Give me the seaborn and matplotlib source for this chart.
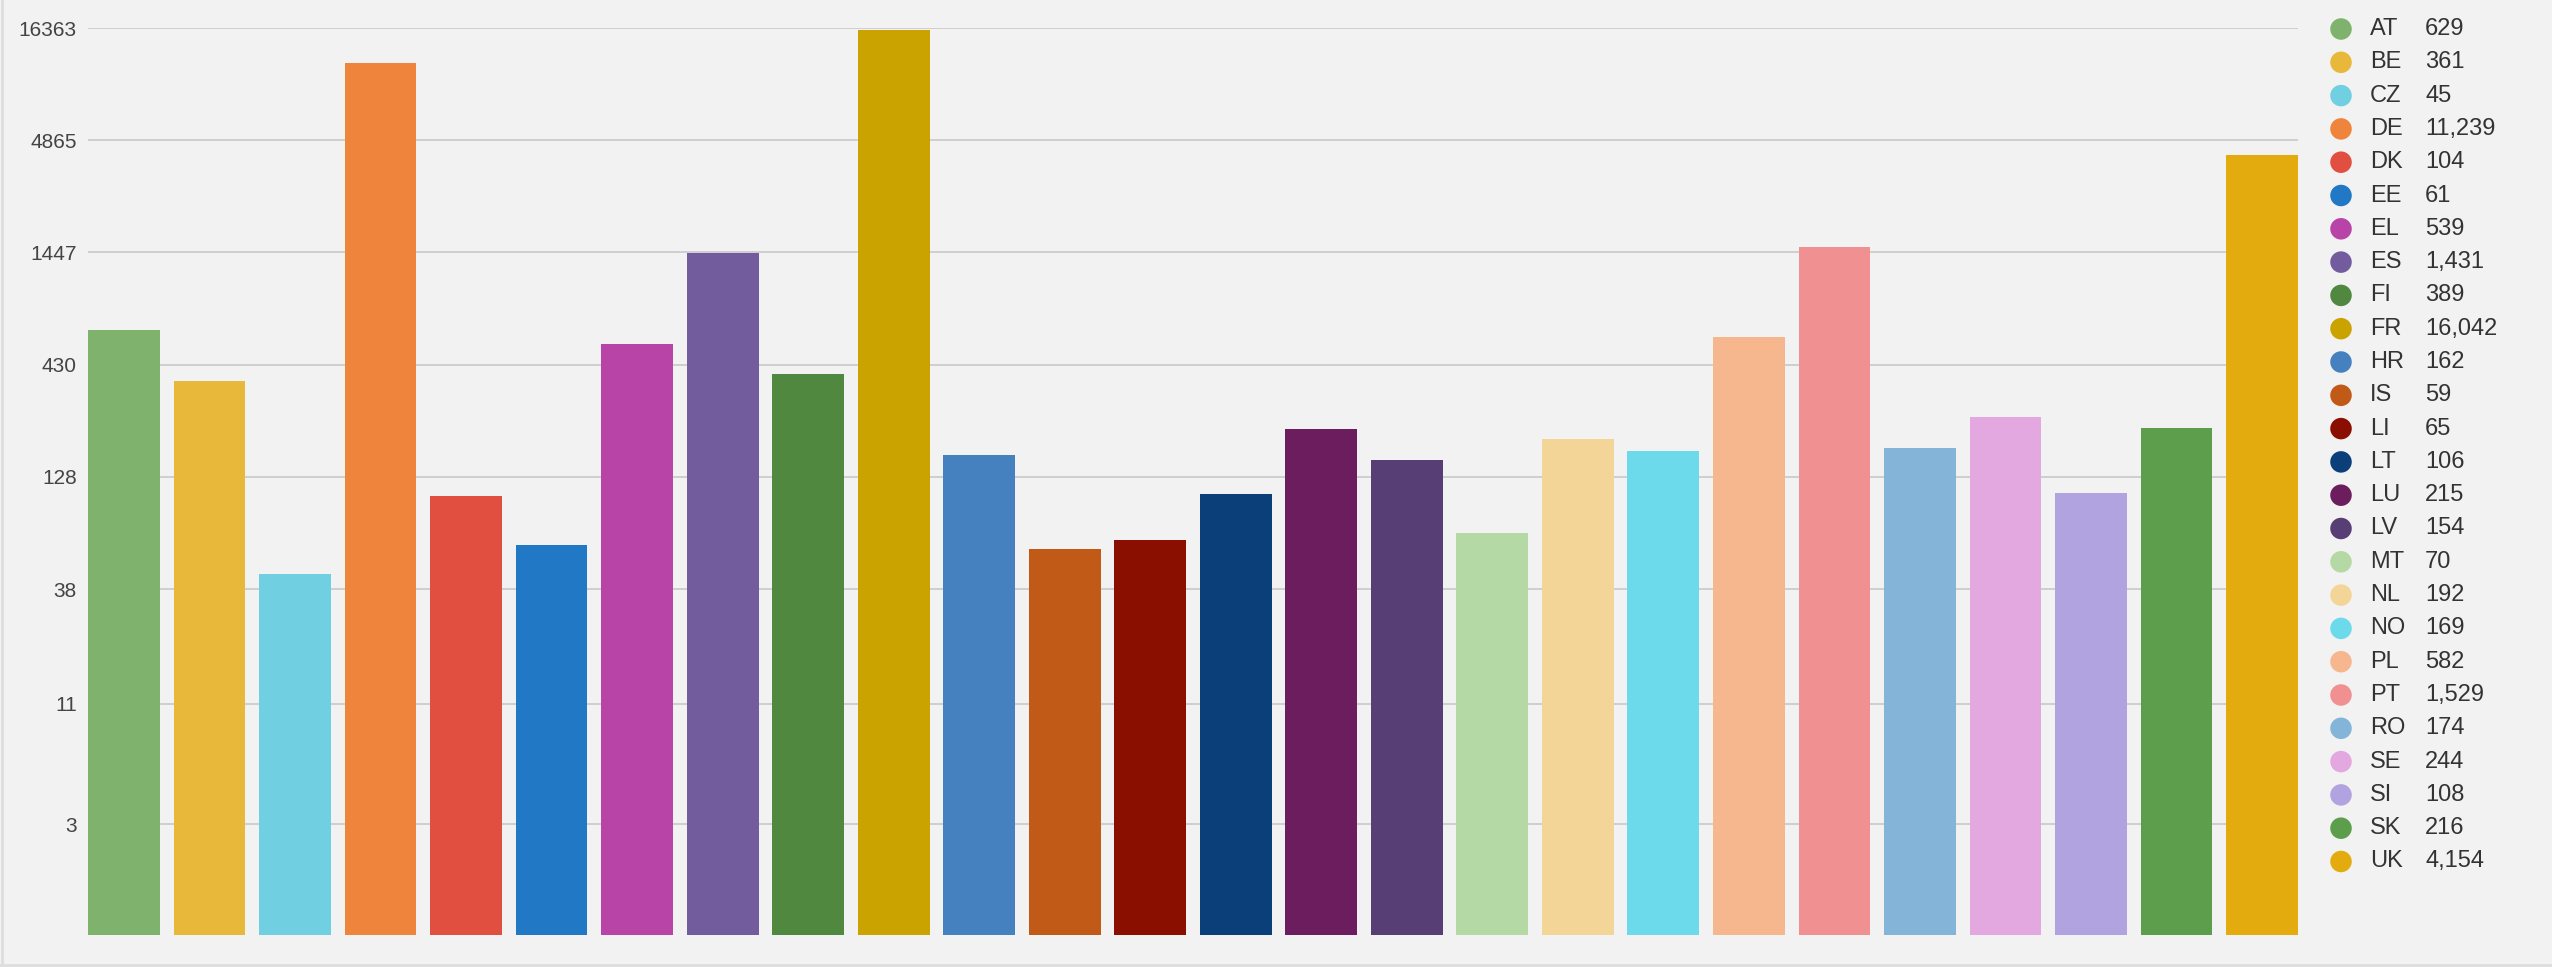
# 국가별 막대그래프 (로그 스케일)

import numpy as np
import pandas as pd
import seaborn as sns
import matplotlib.pyplot as plt
from matplotlib.lines import Line2D

codes = ["AT", "BE", "CZ", "DE", "DK", "EE", "EL", "ES", "FI", "FR", "HR", "IS", "LI",
         "LT", "LU", "LV", "MT", "NL", "NO", "PL", "PT", "RO", "SE", "SI", "SK", "UK"]
values = [629, 361, 45, 11239, 104, 61, 539, 1431, 389, 16042, 162, 59, 65,
          106, 215, 154, 70, 192, 169, 582, 1529, 174, 244, 108, 216, 4154]
colors = ["#7fb26d", "#e8b83a", "#70cfe0", "#ef843c", "#e04f3f", "#2178c4", "#b944a8",
          "#725c9e", "#508840", "#cba300", "#4581be", "#c05a16", "#8a0f00", "#0b3f7a",
          "#6c1d5d", "#573f75", "#b5d9a5", "#f2d597", "#6cdaeb", "#f7b78e", "#f09090",
          "#84b4d8", "#e4a8e0", "#b0a3e0", "#5c9e4c", "#e3ab0d"]
yticks = [3, 11, 38, 128, 430, 1447, 4865, 16363]

df = pd.DataFrame({"code": codes, "n": values})

bg = "#f2f2f2"
sns.set_style("white")
plt.rcParams["font.family"] = ["Liberation Sans", "DejaVu Sans"]

fig = plt.figure(figsize=(25.52, 9.67), dpi=100, facecolor=bg)
ax = fig.add_axes([88 / 2552, 1 - 935 / 967, (2298 - 88) / 2552, (935 - 28) / 967])
ax.set_facecolor(bg)

sns.barplot(data=df, x="code", y="n", hue="code", palette=colors, legend=False,
            width=0.84, saturation=1, linewidth=0, ax=ax, zorder=2)
ax.set_yscale("log")
ax.set_ylim(0.906, 16363)
ax.set_xlim(-0.42, 25.42)

# 눈금/격자
ax.set_yticks(yticks)
ax.set_yticklabels([str(t) for t in yticks])
ax.minorticks_off()
ax.tick_params(axis="y", length=0, pad=8, labelsize=15, labelcolor="#444444")
ax.set_xticks([])
ax.set_xlabel("")
ax.set_ylabel("")
ax.grid(axis="y", color="#cccccc", linewidth=1.3, zorder=0)
ax.set_axisbelow(True)
for s in ax.spines.values():
    s.set_visible(False)

# 범례 (원 + 코드 + 값)
lax = fig.add_axes([2300 / 2552, 0, 252 / 2552, 1])
lax.set_xlim(0, 252)
lax.set_ylim(967, 0)
lax.axis("off")
for i, (c, v, col) in enumerate(zip(codes, values, colors)):
    y = 29 + 33.3 * i
    lax.scatter([41], [y], s=240, color=col, edgecolors="none")
    lax.text(70, y, c, va="center", ha="left", fontsize=17, color="#333333")
    lax.text(125, y, f"{v:,}", va="center", ha="left", fontsize=17, color="#333333")

# 테두리 선
fig.add_artist(Line2D([2 / 2552, 2 / 2552], [0, 1], color="#dddddd", linewidth=2))
fig.add_artist(Line2D([0, 1], [2 / 967, 2 / 967], color="#dddddd", linewidth=2))

fig.savefig("out.png", dpi=100, facecolor=bg)
